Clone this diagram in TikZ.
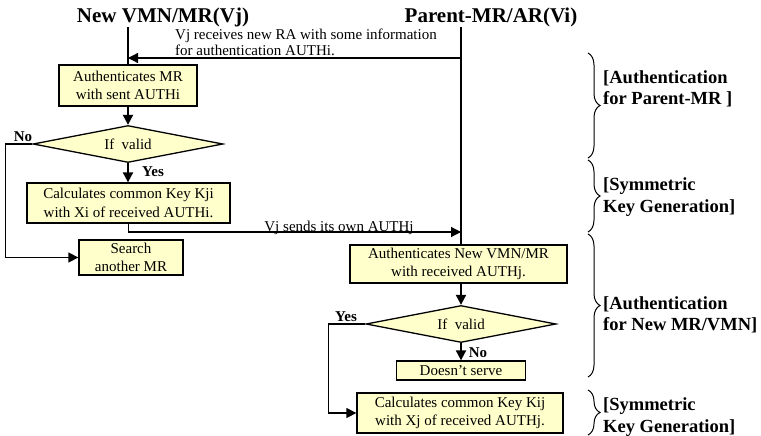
\documentclass[tikz,border=0pt]{standalone}
\usepackage{fontspec}
\setmainfont{Liberation Serif}
\usepackage{tikz}
\usetikzlibrary{arrows.meta,shapes.geometric,decorations.pathreplacing}
\definecolor{boxyellow}{RGB}{255,255,204}
\tikzset{
	party/.style={font=\bfseries\fontsize{21}{25}\selectfont, inner sep=0pt},
	stepbox/.style={draw, line width=1.3pt, fill=boxyellow, align=center, inner sep=0pt, font=\fontsize{15}{18.5}\selectfont},
	decision/.style={diamond, aspect=5, draw, line width=1.3pt, fill=boxyellow, inner sep=0pt, minimum width=190, minimum height=37, font=\fontsize{15}{18}\selectfont},
	answer/.style={font=\bfseries\fontsize{15}{18}\selectfont, inner sep=0pt},
	note/.style={font=\fontsize{15}{16}\selectfont, align=left, inner sep=0pt},
	phase/.style={font=\bfseries\fontsize{18.5}{21.5}\selectfont, align=left, inner sep=0pt, anchor=west},
	lifeline/.style={line width=2pt},
	flow/.style={line width=1.3pt, -{Triangle[length=10pt,width=10pt]}},
	downflow/.style={flow, line width=2pt},
	brace/.style={decorate, decoration={brace, amplitude=12pt}, line width=1pt}
}

\begin{document}
\begin{tikzpicture}[x=1pt, y=-1pt]
			%%%%% START %%%%%
			\useasboundingbox (0,0) rectangle (761,436);
			
			% the two parties and their lines
			\node[party] (vj) at (163,17) {New VMN/MR(Vj)};
			\node[party] (vi) at (491,17) {Parent-MR/AR(Vi)};
			\coordinate (vjtop) at (128,27);
			\coordinate (vitop) at (461,27);
			\coordinate (raL) at (128,58);
			\coordinate (raR) at (461,58);
			\coordinate (sendj) at (461,232);
			
			% steps on the Vj side
			\node[stepbox, minimum width=138, minimum height=41] (authmr) at (128,85.5) {Authenticates MR\\with sent AUTHi};
			\node[decision] (validi) at (128,144) {If~~valid};
			\node[stepbox, minimum width=203, minimum height=40] (keyji) at (128.5,203) {Calculates common Key Kji\\with Xi of received AUTHi.};
			\node[stepbox, minimum width=104, minimum height=35] (search) at (131,257.5) {Search\\another MR};
			
			% steps on the Vi side
			\node[stepbox, minimum width=217, minimum height=38] (authvmn) at (458.5,264) {Authenticates New VMN/MR\\with received AUTHj.};
			\node[decision] (validj) at (461,324) {If~~valid};
			\node[stepbox, minimum width=129, minimum height=19] (noserve) at (461,370.5) {Doesn't serve};
			\node[stepbox, minimum width=206, minimum height=40] (keyij) at (460,413) {Calculates common Key Kij\\with Xj of received AUTHj.};
			
			\draw[lifeline] (vjtop) -- (authmr.north);
			\draw[lifeline] (vitop) -- (vitop |- authvmn.north);
			
			% RA from the parent
			\draw[flow] (raR) -- (raL);
			\node[note, anchor=west] (ratext) at (175,42) {Vj receives new RA with some information\\for authentication AUTHi.};
			
			\draw[downflow] (authmr) -- (validi);
			\draw[downflow] (validi.south) -- (validi.south |- keyji.north);
			\node[answer] (yesi) at (153,172) {Yes};
			\draw[flow] (validi.west) -- ++(-27,0) |- (search.west);
			\node[answer] (noi) at (23,137) {No};
			
			% AUTHj to the parent
			\draw[flow] (keyji.south) |- (sendj);
			\node[note, anchor=base] (sendtext) at (339,231) {Vj sends its own AUTHj};
			
			\draw[downflow] (authvmn.south -| validj) -- (validj.north);
			\draw[downflow] (validj) -- (noserve);
			\node[answer] (noj) at (478,353) {No};
			\draw[flow] (validj.west) -- ++(-37,0) |- (keyij.west);
			\node[answer] (yesj) at (346,317) {Yes};
			
			% phases
			\draw[brace] (588,53) -- (588,158);
			\draw[brace] (588,160) -- (588,232);
			\draw[brace] (588,234) -- (588,377);
			\draw[brace] (588,390) -- (588,435);
			\node[phase] (ph1) at (603,89) {[Authentication\\for Parent-MR ]};
			\node[phase] (ph2) at (603,197) {[Symmetric\\Key Generation]};
			\node[phase] (ph3) at (603,315) {[Authentication\\for New MR/VMN]};
			\node[phase] (ph4) at (603,417) {[Symmetric\\Key Generation]};
			
			%%%%% END %%%%%
\end{tikzpicture}
\end{document}
